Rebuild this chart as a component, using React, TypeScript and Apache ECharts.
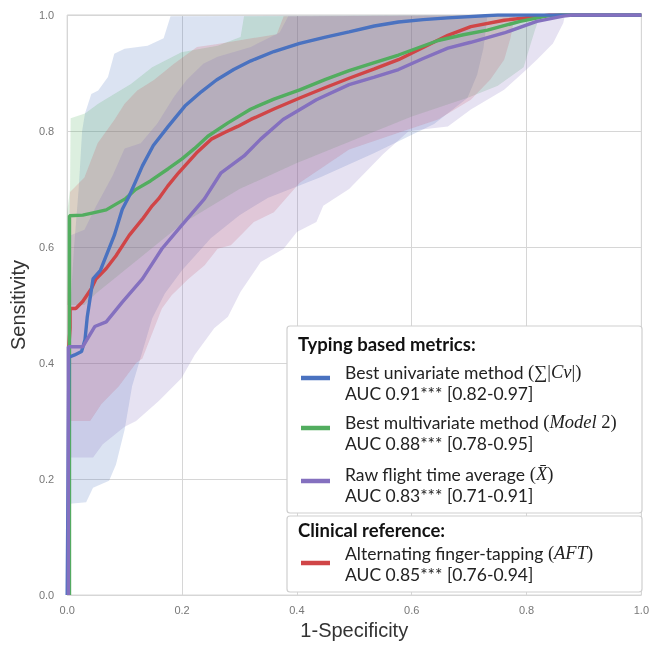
import { useEffect, useRef } from "react";
import * as echarts from "echarts";

type P = [number, number];

const xTicks = [0, 0.2, 0.4, 0.6, 0.8, 1.0];

// ROC curves
const blueCurve: P[] = [[0,0],[0.003,0.41],[0.013,0.414],[0.025,0.42],[0.031,0.44],[0.035,0.48],[0.045,0.545],[0.058,0.56],[0.068,0.585],[0.082,0.62],[0.096,0.665],[0.108,0.688],[0.12,0.715],[0.131,0.74],[0.15,0.775],[0.176,0.808],[0.205,0.843],[0.234,0.868],[0.26,0.888],[0.29,0.906],[0.32,0.921],[0.36,0.937],[0.405,0.951],[0.45,0.962],[0.491,0.971],[0.535,0.981],[0.577,0.988],[0.62,0.992],[0.663,0.995],[0.75,1],[1,1]];
const greenCurve: P[] = [[0.004,0],[0.004,0.654],[0.027,0.655],[0.045,0.659],[0.068,0.664],[0.085,0.674],[0.101,0.683],[0.119,0.699],[0.145,0.714],[0.176,0.735],[0.2,0.752],[0.222,0.77],[0.245,0.791],[0.28,0.814],[0.32,0.838],[0.36,0.855],[0.405,0.871],[0.45,0.889],[0.491,0.904],[0.535,0.918],[0.577,0.931],[0.646,0.956],[0.69,0.966],[0.732,0.974],[0.789,0.989],[0.835,0.998],[0.86,1],[1,1]];
const redCurve: P[] = [[0.003,0],[0.003,0.43],[0.005,0.46],[0.005,0.494],[0.015,0.494],[0.027,0.506],[0.042,0.528],[0.05,0.545],[0.068,0.563],[0.085,0.585],[0.108,0.62],[0.131,0.648],[0.148,0.671],[0.159,0.683],[0.175,0.705],[0.194,0.728],[0.225,0.762],[0.251,0.786],[0.275,0.798],[0.297,0.808],[0.32,0.82],[0.36,0.838],[0.405,0.857],[0.45,0.875],[0.491,0.891],[0.535,0.907],[0.577,0.923],[0.634,0.951],[0.663,0.965],[0.703,0.98],[0.761,0.991],[0.818,0.997],[0.84,1],[1,1]];
const purpleCurve: P[] = [[0.002,0],[0.002,0.428],[0.013,0.428],[0.027,0.428],[0.036,0.443],[0.048,0.463],[0.068,0.471],[0.096,0.505],[0.131,0.545],[0.165,0.597],[0.199,0.637],[0.239,0.683],[0.268,0.728],[0.308,0.757],[0.337,0.786],[0.376,0.82],[0.434,0.854],[0.491,0.88],[0.535,0.893],[0.577,0.906],[0.62,0.925],[0.663,0.943],[0.703,0.953],[0.761,0.969],[0.818,0.989],[0.864,0.998],[0.88,1],[1,1]];

// Confidence bands (upper / lower edges)
const blueUpper: P[] = [[0,0.41],[0.012,0.6],[0.02,0.7],[0.026,0.8],[0.031,0.83],[0.042,0.864],[0.054,0.87],[0.071,0.893],[0.082,0.933],[0.1,0.942],[0.14,0.947],[0.168,0.96],[0.18,0.998],[1,1]];
const blueLower: P[] = [[0,0.157],[0.033,0.16],[0.045,0.185],[0.073,0.197],[0.085,0.225],[0.1,0.285],[0.113,0.36],[0.131,0.42],[0.148,0.477],[0.17,0.52],[0.2,0.56],[0.25,0.615],[0.3,0.655],[0.35,0.685],[0.44,0.72],[0.535,0.762],[0.639,0.812],[0.697,0.857],[0.714,0.897],[0.725,0.943],[0.732,1],[1,1]];
const greenUpper: P[] = [[0,0.66],[0.005,0.7],[0.006,0.822],[0.031,0.83],[0.054,0.847],[0.082,0.864],[0.111,0.881],[0.148,0.91],[0.199,0.936],[0.262,0.947],[0.302,0.962],[0.308,0.998],[1,1]];
const greenLower: P[] = [[0,0.5],[0.03,0.5],[0.05,0.52],[0.1,0.56],[0.15,0.6],[0.2,0.64],[0.3,0.7],[0.4,0.745],[0.5,0.785],[0.6,0.825],[0.7,0.858],[0.75,0.878],[0.795,0.91],[0.806,0.946],[0.815,0.975],[0.824,1],[1,1]];
const redUpper: P[] = [[0,0.5],[0.005,0.695],[0.03,0.72],[0.053,0.779],[0.082,0.819],[0.1,0.847],[0.122,0.87],[0.151,0.888],[0.186,0.916],[0.226,0.945],[0.262,0.95],[0.365,0.967],[0.377,0.998],[1,1]];
const redLower: P[] = [[0,0.3],[0.04,0.3],[0.06,0.33],[0.09,0.36],[0.12,0.4],[0.131,0.408],[0.165,0.494],[0.182,0.517],[0.211,0.545],[0.239,0.568],[0.262,0.597],[0.285,0.603],[0.302,0.62],[0.325,0.643],[0.36,0.66],[0.405,0.711],[0.491,0.768],[0.577,0.797],[0.646,0.82],[0.703,0.854],[0.737,0.889],[0.761,0.923],[0.772,0.96],[0.78,1],[1,1]];
const purpleUpper: P[] = [[0,0.43],[0.005,0.62],[0.03,0.63],[0.05,0.67],[0.079,0.723],[0.1,0.77],[0.128,0.779],[0.157,0.813],[0.186,0.859],[0.208,0.888],[0.237,0.916],[0.262,0.928],[0.32,0.945],[0.37,0.97],[0.385,0.998],[1,1]];
const purpleLower: P[] = [[0,0.237],[0.045,0.237],[0.062,0.26],[0.1,0.29],[0.12,0.3],[0.159,0.334],[0.199,0.374],[0.222,0.414],[0.256,0.46],[0.28,0.48],[0.302,0.523],[0.337,0.574],[0.377,0.597],[0.4,0.626],[0.434,0.643],[0.446,0.671],[0.491,0.7],[0.55,0.76],[0.595,0.8],[0.663,0.808],[0.703,0.837],[0.761,0.871],[0.8,0.906],[0.818,0.923],[0.846,0.951],[0.864,0.986],[0.867,1],[1,1]];

const legendGroupTitles = ["Typing based metrics:", "Clinical reference:"];
const legendNames = [
  "{n|Best univariate method }{s|(∑|}{i|Cv}{s||)}",
  "{n|Best multivariate method }{s|(}{i|Model}{s| 2)}",
  "{n|Raw flight time average }{s|(}{i|X\u0304}{s|)}",
  "{n|Alternating finger-tapping }{s|(}{i|AFT}{s|)}",
];
const legendAuc = [
  "AUC 0.91*** [0.82-0.97]",
  "AUC 0.88*** [0.78-0.95]",
  "AUC 0.83*** [0.71-0.91]",
  "AUC 0.85*** [0.76-0.94]",
];

const BLUE = "#4a72c0";
const GREEN = "#52ad5f";
const RED = "#d04547";
const PURPLE = "#8470bf";

function bandSeries(upper: P[], lower: P[], fill: string) {
  const poly = [...upper, ...lower.slice().reverse()];
  return {
    type: "custom",
    coordinateSystem: "cartesian2d",
    data: [[0, 0]],
    clip: true,
    silent: true,
    z: 1,
    renderItem: (_params: any, api: any) => ({
      type: "polygon",
      shape: { points: poly.map((p) => api.coord(p)) },
      style: { fill },
    }),
  };
}

function lineSeries(data: P[], color: string) {
  return {
    type: "line",
    data,
    showSymbol: false,
    clip: true,
    silent: true,
    z: 3,
    lineStyle: { color, width: 3.4 },
    itemStyle: { color },
  };
}

export default function App() {
  const ref = useRef<HTMLDivElement>(null);
  useEffect(() => {
    const chart = echarts.init(ref.current!, undefined, { renderer: "svg" });
    const font = "Lato";
    const fs = 17.5;
    const rich = {
      n: { fontFamily: font, fontSize: fs, color: "#222" },
      s: { fontFamily: "Liberation Serif", fontSize: 18.5, color: "#222" },
      i: { fontFamily: "Liberation Serif", fontSize: 18.5, fontStyle: "italic", color: "#222" },
    };
    const colors = [BLUE, GREEN, PURPLE, RED];
    const nameY = [372, 422, 474, 553];
    const aucY = [393, 443, 495, 574];
    const swY = [378, 428, 481, 563];
    const graphics: any[] = [
      { type: "rect", shape: { x: 287, y: 326, width: 355, height: 187, r: 3 }, style: { fill: "#fff", stroke: "#cfcfcf", lineWidth: 1.2 }, z: 10 },
      { type: "rect", shape: { x: 287, y: 516, width: 355, height: 76, r: 3 }, style: { fill: "#fff", stroke: "#cfcfcf", lineWidth: 1.2 }, z: 10 },
      { type: "text", x: 298, y: 344, z: 11, style: { text: legendGroupTitles[0], fontFamily: font, fontWeight: "bold", fontSize: 18.5, fill: "#111", verticalAlign: "middle" } },
      { type: "text", x: 298, y: 530, z: 11, style: { text: legendGroupTitles[1], fontFamily: font, fontWeight: "bold", fontSize: 18.5, fill: "#111", verticalAlign: "middle" } },
    ];
    for (let k = 0; k < 4; k++) {
      graphics.push({ type: "line", z: 11, shape: { x1: 301, y1: swY[k], x2: 330, y2: swY[k] }, style: { stroke: colors[k], lineWidth: 4.5 } });
      graphics.push({ type: "text", x: 345, y: nameY[k], z: 11, style: { text: legendNames[k], rich, fontFamily: font, fontSize: fs, fill: "#222", verticalAlign: "middle" } });
      graphics.push({ type: "text", x: 345, y: aucY[k], z: 11, style: { text: legendAuc[k], fontFamily: font, fontSize: fs, fill: "#222", verticalAlign: "middle" } });
    }
    chart.setOption({
      animation: false,
      grid: { left: 64, right: 6, top: 15, bottom: 47, show: true, borderColor: "#cfcfcf", borderWidth: 1, backgroundColor: "transparent" },
      xAxis: {
        type: "value", min: 0, max: 1, interval: 0.2,
        name: "1-Specificity", nameLocation: "middle", nameGap: 22,
        nameTextStyle: { fontFamily: "Liberation Sans", fontSize: 20, color: "#333", verticalAlign: "top" },
        axisLine: { show: false }, axisTick: { show: false },
        axisLabel: { margin: 9, color: "#777", fontSize: 11, fontFamily: "Liberation Sans", formatter: (v: number) => v.toFixed(1), customValues: xTicks },
        splitLine: { show: true, lineStyle: { color: "#d6d6d6", width: 1 } },
      },
      yAxis: {
        type: "value", min: 0, max: 1, interval: 0.2,
        name: "Sensitivity", nameLocation: "middle", nameGap: 36,
        nameTextStyle: { fontFamily: "Liberation Sans", fontSize: 20, color: "#333" },
        axisLine: { show: false }, axisTick: { show: false },
        axisLabel: { margin: 13, color: "#777", fontSize: 11, fontFamily: "Liberation Sans", formatter: (v: number) => v.toFixed(1) },
        splitLine: { show: true, lineStyle: { color: "#d6d6d6", width: 1 } },
      },
      series: [
        bandSeries(blueUpper, blueLower, "rgba(74,114,192,0.2)"),
        bandSeries(greenUpper, greenLower, "rgba(82,173,95,0.2)"),
        bandSeries(redUpper, redLower, "rgba(208,69,71,0.18)"),
        bandSeries(purpleUpper, purpleLower, "rgba(132,112,191,0.2)"),
        lineSeries(redCurve, RED),
        lineSeries(greenCurve, GREEN),
        lineSeries(blueCurve, BLUE),
        lineSeries(purpleCurve, PURPLE),
      ],
      graphic: graphics,
    });
    return () => chart.dispose();
  }, []);
  return <div ref={ref} style={{ position: "fixed", left: 0, top: 0, width: 652, height: 645 }} />;
}
